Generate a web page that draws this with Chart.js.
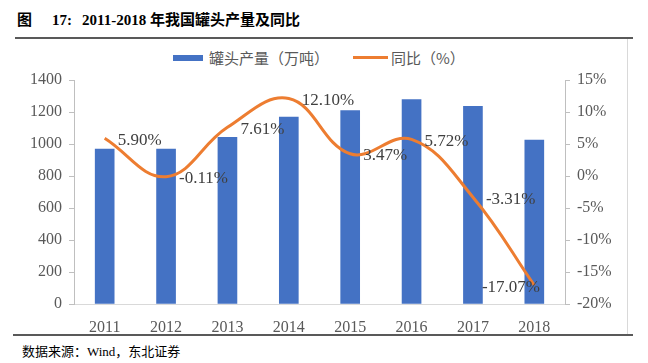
<!DOCTYPE html>
<html>
<head>
<meta charset="utf-8">
<script src="https://cdn.jsdelivr.net/npm/chart.js@4/dist/chart.umd.min.js"></script>
<style>
  body { margin: 0; background: #fff; width: 648px; height: 363px; position: relative; overflow: hidden; }
  .serif { font-family: "Liberation Serif", "Noto Sans CJK SC", serif; }
  #title { position: absolute; left: 17px; top: 8px; font-size: 15px; font-weight: bold; color: #000; white-space: nowrap; }
  #title span { display: inline-block; }
  #rule-top { position: absolute; left: 15px; top: 37px; width: 618px; height: 2px; background: #595959; }
  #rule-bottom { position: absolute; left: 13px; top: 334px; width: 620px; height: 2px; background: #595959; }
  #frame-right { position: absolute; left: 627px; top: 39px; width: 1px; height: 295px; background: #d9d9d9; }
  #legend { position: absolute; top: 45px; left: 173px; font-size: 15px; color: #595959; font-family: "Noto Sans CJK SC", sans-serif; white-space: nowrap; }
  #legend span { display: inline-block; vertical-align: middle; }
  .box { width: 30px; height: 6px; background: #4472C4; margin-right: 6px; }
  .line { width: 35px; height: 3px; background: #ED7D31; margin-left: 24px; margin-right: 3px; }
  #source { position: absolute; left: 22px; top: 341px; font-size: 13px; color: #000; white-space: nowrap; }
  #wrap { position: absolute; left: 0; top: 40px; width: 627px; height: 295px; }
</style>
</head>
<body>
<div id="title" class="serif"><span style="width:35px">图</span><span style="width:30px">17:</span><span>2011-2018 年我国罐头产量及同比</span></div>
<div id="rule-top"></div>
<div id="legend"><span class="box"></span><span>罐头产量（万吨）</span><span class="line"></span><span>同比（%）</span></div>
<div id="wrap"><canvas id="cannedChart"></canvas></div>
<div id="frame-right"></div>
<div id="rule-bottom"></div>
<div id="source" class="serif">数据来源：Wind，东北证券</div>
<script>
const years = ['2011', '2012', '2013', '2014', '2015', '2016', '2017', '2018'];
const output = [969, 968, 1042, 1168, 1209, 1278, 1236, 1025];
const yoy = [5.90, -0.11, 7.61, 12.10, 3.47, 5.72, -3.31, -17.07];
const yoyLabels = ['5.90%', '-0.11%', '7.61%', '12.10%', '3.47%', '5.72%', '-3.31%', '-17.07%'];

const colorBar = '#4472C4';
const colorLine = '#ED7D31';
const colorAxis = '#bfbfbf';
const colorTick = '#595959';
const serif = '"Liberation Serif", "Times New Roman", serif';

const lineLabels = {
  id: 'lineLabels',
  afterDatasetsDraw(chart) {
    const ctx = chart.ctx;
    const meta = chart.getDatasetMeta(1);
    ctx.save();
    ctx.font = '17px ' + serif;
    ctx.fillStyle = '#404040';
    ctx.textBaseline = 'middle';
    ctx.textAlign = 'left';
    meta.data.forEach((pt, i) => {
      const text = yoyLabels[i];
      const w = ctx.measureText(text).width;
      let x = pt.x + 13;
      if (x + w > chart.chartArea.right - 20) x = chart.chartArea.right - 25 - w;
      ctx.fillText(text, x, pt.y + 2);
    });
    ctx.restore();
  }
};

new Chart(document.getElementById('cannedChart'), {
  data: {
    labels: years,
    datasets: [{
      type: 'bar',
      label: '罐头产量（万吨）',
      data: output,
      backgroundColor: colorBar,
      barThickness: 19,
      yAxisID: 'y',
      order: 2
    }, {
      type: 'line',
      label: '同比（%）',
      data: yoy,
      borderColor: colorLine,
      borderWidth: 3,
      pointRadius: 0,
      tension: 0.4,
      yAxisID: 'y1',
      order: 1
    }]
  },
  options: {
    responsive: true,
    maintainAspectRatio: false,
    animation: false,
    layout: { padding: { top: 40, left: 0, right: 0, bottom: 0 } },
    plugins: {
      legend: { display: false },
      tooltip: { enabled: false }
    },
    scales: {
      x: {
        grid: { display: false },
        border: { display: true, color: '#d9d9d9' },
        ticks: { color: colorTick, font: { family: serif, size: 16 }, padding: 6 },
        afterFit(scale) { scale.height = 31; }
      },
      y: {
        position: 'left',
        min: 0, max: 1400,
        ticks: { stepSize: 200, color: colorTick, font: { family: serif, size: 16 }, padding: 7, callback: v => String(v) },
        grid: { drawOnChartArea: false, drawTicks: true, tickLength: 5, color: colorAxis },
        border: { display: true, color: colorAxis },
        afterFit(scale) { scale.width = 74; }
      },
      y1: {
        position: 'right',
        min: -20, max: 15,
        ticks: { stepSize: 5, color: colorTick, font: { family: serif, size: 16 }, padding: 7, callback: v => v + '%' },
        grid: { drawOnChartArea: false, drawTicks: true, tickLength: 5, color: colorAxis },
        border: { display: true, color: colorAxis },
        afterFit(scale) { scale.width = 62; }
      }
    }
  },
  plugins: [lineLabels]
});
</script>
</body>
</html>
